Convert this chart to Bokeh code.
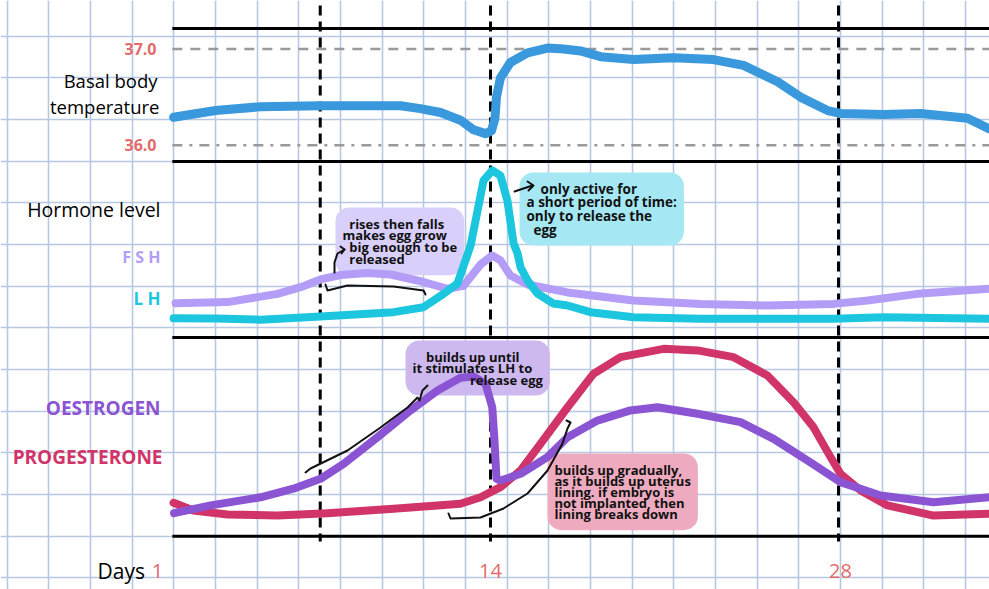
import numpy as np
from bokeh.plotting import figure
from bokeh.models import Range1d, FixedTicker
from bokeh.core.properties import value
from bokeh.embed import file_html
from bokeh.resources import INLINE

# ---------------- data ----------------
temp_days = [1.25, 2.94, 4.75, 7.16, 10.38, 11.18, 11.99, 12.79, 13.32, 13.80, 14.04,
             14.18, 14.24, 14.40, 14.80, 15.49, 16.29, 16.94, 17.62, 18.43, 19.75,
             21.36, 22.97, 24.18, 25.55, 26.47, 27.56, 28.08, 29.81, 31.30, 33.19, 34.07]
temp_vals = [36.29, 36.36, 36.40, 36.41, 36.41, 36.38, 36.34, 36.26, 36.16, 36.12, 36.15,
             36.28, 36.50, 36.70, 36.86, 36.96, 37.01, 37.00, 36.98, 36.92, 36.89,
             36.91, 36.89, 36.83, 36.66, 36.50, 36.36, 36.33, 36.32, 36.33, 36.28, 36.17]

lh_days = [1.25, 2.94, 4.75, 7.16, 10.10, 11.30, 12.11, 12.67, 13.20, 13.48, 13.72, 14.07,
           14.40, 14.68, 14.93, 15.09, 15.21, 15.49, 15.89, 16.53, 17.10, 18.02, 19.75,
           22.45, 27.80, 29.81, 34.07]
lh_vals = [11.0, 10.8, 10.1, 11.9, 14.4, 17.2, 24.8, 30.7, 52.3, 72.2, 89.2, 94.9,
           92.0, 77.8, 53.4, 47.7, 39.8, 32.4, 25.0, 19.3, 18.2, 14.4, 11.5,
           10.6, 10.6, 11.5, 10.6]

fsh_days = [1.33, 3.42, 5.43, 6.36, 7.16, 7.97, 9.05, 9.98, 11.06, 12.27, 12.91, 13.60,
            14.07, 14.40, 14.80, 15.49, 17.10, 19.75, 22.45, 25.14, 27.80, 29.17, 31.18, 34.07]
fsh_vals = [19.5, 20.1, 24.8, 28.6, 33.0, 35.5, 36.6, 35.8, 32.4, 27.7, 29.3, 41.5,
            46.6, 43.8, 35.2, 30.1, 25.6, 21.0, 19.1, 18.2, 19.1, 21.0, 24.8, 27.7]

oes_days = [1.27, 2.74, 4.75, 6.07, 7.16, 8.09, 9.45, 10.78, 11.87, 12.79, 13.32, 13.80,
            14.07, 14.16, 14.24, 14.40, 15.21, 16.29, 17.10, 18.30, 19.63, 20.72, 22.33,
            24.06, 25.39, 26.87, 28.08, 29.69, 31.82, 34.07]
oes_vals = [11.6, 15.5, 19.6, 23.9, 28.9, 36.4, 49.8, 63.3, 73.3, 79.7, 80.4, 76.7,
            64.9, 48.2, 29.0, 28.0, 31.4, 39.8, 49.8, 58.2, 63.3, 64.9, 61.6,
            57.4, 49.0, 37.2, 27.2, 20.5, 17.1, 19.6]

prog_days = [1.25, 2.05, 3.42, 5.43, 7.44, 10.10, 12.79, 13.60, 14.40, 15.21, 16.01, 17.10,
             18.14, 19.23, 20.96, 22.33, 23.78, 25.14, 26.19, 26.99, 27.68, 28.08, 28.89,
             29.97, 31.82, 34.07]
prog_vals = [16.8, 12.9, 10.9, 10.4, 11.6, 13.8, 16.3, 19.6, 24.7, 33.1, 46.5, 64.9,
             81.7, 90.1, 94.3, 93.5, 90.1, 80.9, 67.4, 54.9, 39.8, 31.4, 23.0,
             15.5, 10.4, 11.3]

marker_days = [7.15, 14, 28]
tick_days = [1, 14, 28]
tick_labels = ["1", "14", "28"]
temp_ticks = [37.0, 36.0]
temp_tick_labels = ["37.0", "36.0"]

S = "\u00a0"  # non-breaking space used for hand-written indents
notes = [
    S * 2 + "rises then falls\nmakes egg grow\n" + S * 2 + "big enough to be\n" + S * 2 + "released",
    S * 4 + "only active for\na short period of time:\nonly to release the\n" + S * 2 + "egg",
    S * 4 + "builds up until\nit stimulates LH to\n" + S * 17 + "release egg",
    "builds up gradually,\nas it builds up uterus\nlining. if embryo is\nnot implanted, then\nlining breaks down",
]

# ---------------- colours ----------------
C_TEMP = "#3a99dc"
C_LH = "#1cc6de"
C_FSH = "#b39df7"
C_OES = "#8b54d2"
C_PROG = "#d03468"
C_RED = "#e36a6a"
C_GRID = "#b9c8e2"
C_GREY = "#9a9a9a"
NOTE_FILLS = ["#d8cffb", "#a5e7f2", "#cdb9ef", "#eeabc0"]

# ---------------- layout (screen pixels of the page) ----------------
W, H = 989, 589
OX, OY = 0, 0
PX_DAY, X14 = 24.857, 490.0
PX_DEG, Y37 = 96.2, 48.5
PX_H, Y_H0 = 1.76, 337.0
PX_O, Y_O0 = 1.987, 535.7
SQ, GX0, GY0 = 41.667, 6.6, 577.3

day_start = 14 - (X14 - OX) / PX_DAY
t_top = 37.0 + (Y37 - OY) / PX_DEG
h_top = (Y_H0 - OY) / PX_H
o_top = (Y_O0 - OY) / PX_O
gx_start = (OX - GX0) / SQ
gy_top = (GY0 - OY) / SQ

p = figure(width=W, height=H, output_backend="svg", toolbar_location=None,
           x_range=Range1d(gx_start, gx_start + W / SQ),
           y_range=Range1d(gy_top - H / SQ, gy_top),
           x_axis_location=None, y_axis_location=None, min_border=0,
           outline_line_color=None, background_fill_color="white",
           border_fill_color="white")
p.extra_x_ranges = {"days": Range1d(day_start, day_start + W / PX_DAY),
                    "px": Range1d(OX, OX + W)}
p.extra_y_ranges = {"temp": Range1d(t_top - H / PX_DEG, t_top),
                    "horm": Range1d(h_top - H / PX_H, h_top),
                    "ovar": Range1d(o_top - H / PX_O, o_top),
                    "px": Range1d(OY + H, OY)}

# graph paper grid
p.xgrid.ticker = FixedTicker(ticks=list(range(0, 25)))
p.ygrid.ticker = FixedTicker(ticks=list(range(0, 15)))
p.grid.grid_line_color = C_GRID
p.grid.grid_line_width = 1.6

FONT = value("Open Sans")

# panel frame lines
x_left, x_right = 1.2, 35.0
p.segment([x_left], [37.213], [x_right], [37.213], x_range_name="days", y_range_name="temp",
          line_color="black", line_width=3)
p.segment([x_left], [100], [x_right], [100], x_range_name="days", y_range_name="horm",
          line_color="black", line_width=3)
p.segment([x_left, x_left], [100, 0], [x_right, x_right], [100, 0], x_range_name="days",
          y_range_name="ovar", line_color="black", line_width=3)

# temperature reference lines
p.segment([x_left], [37.0], [x_right], [37.0], x_range_name="days", y_range_name="temp",
          line_color=C_GREY, line_width=2.5, line_dash="10 8")
p.segment([x_left], [36.0], [x_right], [36.0], x_range_name="days", y_range_name="temp",
          line_color=C_GREY, line_width=2.5, line_dash="10 7 3 7")

# vertical day markers
p.segment(marker_days, [5] * 3, marker_days, [541] * 3, x_range_name="days", y_range_name="px",
          line_color="black", line_width=3, line_dash="10 6")

# annotation bubbles: position, font size, line height
note_pos = [(335, 207, "13px", 0.66), (519, 172, "13.5px", 0.76),
            (405, 340, "13px", 0.64), (547, 453, "13px", 0.62)]

def draw_notes(with_fill):
    for txt, fill, (x, y, size, lh) in zip(notes, NOTE_FILLS, note_pos):
        p.text([x], [y], text=[txt], x_range_name="px", y_range_name="px",
               text_font=FONT, text_font_style="bold", text_font_size=size,
               text_color="#111111", text_alpha=0.0 if with_fill else 1.0,
               text_align="left", text_baseline="top", text_line_height=lh,
               background_fill_color=fill if with_fill else None, padding=7,
               border_radius=14)

draw_notes(True)

# curves
kw = dict(x_range_name="days", line_cap="round", line_join="round")
p.line(temp_days, temp_vals, y_range_name="temp", line_color=C_TEMP, line_width=9, **kw)
p.line(fsh_days, fsh_vals, y_range_name="horm", line_color=C_FSH, line_width=8, **kw)
p.line(lh_days, lh_vals, y_range_name="horm", line_color=C_LH, line_width=8, **kw)
p.line(prog_days, prog_vals, y_range_name="ovar", line_color=C_PROG, line_width=8, **kw)
p.line(oes_days, oes_vals, y_range_name="ovar", line_color=C_OES, line_width=8, **kw)

draw_notes(False)

# hand-drawn strokes (arrows / braces)
strokes = [
    ([334, 334, 337, 344], [272, 262, 253, 249]),
    ([340, 344, 341], [246, 249, 253]),
    ([325, 327, 347, 393, 423, 425], [284, 290, 285, 286, 290, 294]),
    ([514, 532], [191, 185]),
    ([527, 533, 528], [181, 185, 190]),
    ([305, 310, 347, 380, 407, 417, 419, 422, 427], [472, 468, 450, 427, 407, 397, 400, 390, 385]),
    ([448, 450, 480, 503, 527, 547, 562, 567, 570, 566],
     [513, 518, 517, 508, 493, 470, 443, 428, 422, 420]),
]
for xs, ys in strokes:
    p.line(xs, ys, x_range_name="px", y_range_name="px", line_color="#111111",
           line_width=2, line_cap="round", line_join="round")

# left labels
def label(x, y, txt, color, size, bold=False, align="right"):
    p.text([x], [y], text=[txt], x_range_name="px", y_range_name="px", text_font=FONT,
           text_font_size=size, text_font_style="bold" if bold else "normal",
           text_color=color, text_align=align, text_baseline="middle")

label(157, 80, "Basal body", "black", "18.5px")
label(159, 106, "temperature", "black", "18.5px")
label(160, 209, "Hormone level", "black", "19.5px")
label(160, 256, "F S H", C_FSH, "16px", bold=True)
label(160, 298, "L H", C_LH, "17px", bold=True)
label(160, 407, "OESTROGEN", C_OES, "19px", bold=True)
label(162, 456, "PROGESTERONE", C_PROG, "19px", bold=True)
label(97, 570, "Days", "black", "21px", align="left")

p.text([156] * 2, temp_ticks, text=temp_tick_labels, x_range_name="px", y_range_name="temp",
       text_font=FONT, text_font_size="16px", text_font_style="bold", text_color=C_RED,
       text_align="right", text_baseline="middle")
p.text(tick_days, [570] * 3, text=tick_labels, x_range_name="days", y_range_name="px",
       x_offset=[-10, 0, 2], text_font=FONT, text_font_size="20px", text_color=C_RED,
       text_align="center", text_baseline="middle")

open("out.html", "w").write(file_html(p, INLINE))
